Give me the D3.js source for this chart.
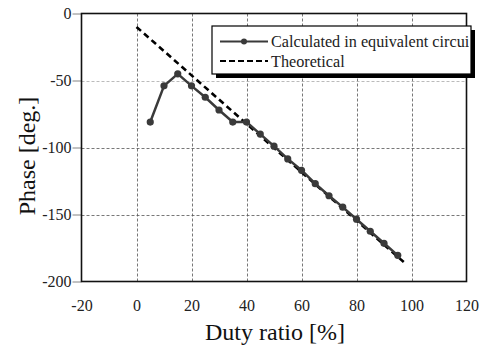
<!DOCTYPE html>
<html><head><meta charset="utf-8">
<script src="https://cdn.jsdelivr.net/npm/d3@7"></script>
<style>body{margin:0;background:#fff}svg{display:block}
svg text{font-family:'Liberation Serif','Times New Roman',serif}</style>
</head><body>
<svg id="c" width="483" height="347"></svg>
<script>
const xTicks = [-20, 0, 20, 40, 60, 80, 100, 120];
const yTicks = [0, -50, -100, -150, -200];
const duty = [5, 10, 15, 20, 25, 30, 35, 40, 45, 50, 55, 60, 65, 70, 75, 80, 85, 90, 95];
const calculated = [-81, -54, -45, -54, -62.5, -72, -81, -81, -90, -99, -108.5, -117, -127, -136, -144.5, -153.5, -162.5, -171.5, -180.5];
const theoDuty = [0, 98];
const theoPhase = [-10, -187];
const seriesNames = ["Calculated in equivalent circuit", "Theoretical"];

const svg = d3.select("#c");
const L = 81.5, R = 466.5, T = 13.5, B = 281.5;
const x = d3.scaleLinear().domain([-20, 120]).range([L, R]);
const y = d3.scaleLinear().domain([-200, 0]).range([B, T]);
const font = "'Liberation Serif','Times New Roman',serif";
const fmt = d => String(d);

// grid
svg.append("g").selectAll("line").data(xTicks.slice(1, -1)).join("line")
  .attr("x1", d => Math.round(x(d)) + 0.5).attr("x2", d => Math.round(x(d)) + 0.5)
  .attr("y1", T).attr("y2", B).attr("stroke", "#555").attr("stroke-width", 0.8).attr("stroke-dasharray", "3,2");
svg.append("g").selectAll("line").data(yTicks.slice(1, -1)).join("line")
  .attr("x1", L).attr("x2", R)
  .attr("y1", d => Math.round(y(d)) + 0.5).attr("y2", d => Math.round(y(d)) + 0.5)
  .attr("stroke", d => d === -50 ? "#aaa" : "#555").attr("stroke-width", 0.8).attr("stroke-dasharray", "3,2");

// axes
const xAxis = d3.axisBottom(x).tickValues(xTicks).tickFormat(fmt).tickSize(0).tickPadding(18);
const gx = svg.append("g").attr("transform", `translate(0,${B})`).call(xAxis);
gx.attr("font-family", null).attr("font-size", null);
gx.select(".domain").remove();
gx.selectAll("text").style("font-family", font).style("font-size", "16px").attr("fill", "#222");
const yAxis = d3.axisLeft(y).tickValues(yTicks).tickFormat(fmt).tickSize(9).tickPadding(1);
const gy = svg.append("g").attr("transform", `translate(${L},0)`).call(yAxis);
gy.attr("font-family", null).attr("font-size", null);
gy.select(".domain").remove();
gy.selectAll("line").attr("stroke", "#666").attr("stroke-width", 0.8);
gy.selectAll("text").style("font-family", font).style("font-size", "16px").attr("fill", "#222");

// frame
svg.append("rect").attr("x", L).attr("y", T).attr("width", R - L).attr("height", B - T)
  .attr("fill", "none").attr("stroke", "#111").attr("stroke-width", 1.6);

// theoretical
const theo = theoDuty.map((d, i) => [d, theoPhase[i]]);
svg.append("path").datum(theo)
  .attr("d", d3.line().x(d => x(d[0])).y(d => y(d[1])))
  .attr("fill", "none").attr("stroke", "#000").attr("stroke-width", 2.6).attr("stroke-dasharray", "6,4");

// calculated
const calc = duty.map((d, i) => [d, calculated[i]]);
svg.append("path").datum(calc)
  .attr("d", d3.line().x(d => x(d[0])).y(d => y(d[1])))
  .attr("fill", "none").attr("stroke", "#3a3a3a").attr("stroke-width", 2.5);
svg.append("g").selectAll("circle").data(calc).join("circle")
  .attr("cx", d => x(d[0])).attr("cy", d => y(d[1])).attr("r", 3.6).attr("fill", "#3a3a3a");

// legend
const lx = 212, ly = 26, lw = 259, lh = 48;
svg.append("rect").attr("x", lx + 4).attr("y", ly + 4).attr("width", lw).attr("height", lh).attr("fill", "#000");
svg.append("rect").attr("x", lx).attr("y", ly).attr("width", lw).attr("height", lh)
  .attr("fill", "#fff").attr("stroke", "#000").attr("stroke-width", 1.2);
const lg = svg.append("g");
lg.append("line").attr("x1", 220).attr("x2", 268).attr("y1", 41.5).attr("y2", 41.5)
  .attr("stroke", "#3a3a3a").attr("stroke-width", 2.2);
lg.append("circle").attr("cx", 244).attr("cy", 41.5).attr("r", 3).attr("fill", "#3a3a3a");
lg.append("line").attr("x1", 220).attr("x2", 268).attr("y1", 61).attr("y2", 61)
  .attr("stroke", "#000").attr("stroke-width", 2.2).attr("stroke-dasharray", "6,3");
svg.append("clipPath").attr("id", "lc").append("rect")
  .attr("x", lx).attr("y", ly).attr("width", lw - 2).attr("height", lh);
lg.selectAll("text").data(seriesNames).join("text")
  .attr("x", 271).attr("y", (d, i) => i === 0 ? 47 : 66.5)
  .attr("clip-path", "url(#lc)")
  .attr("font-size", 16.2).attr("fill", "#222").text(d => d);

// titles
svg.append("text").attr("x", 275).attr("y", 340).attr("text-anchor", "middle")
  .attr("font-size", 24).attr("fill", "#111").text("Duty ratio [%]");
svg.append("text").attr("transform", "translate(35,156) rotate(-90)").attr("text-anchor", "middle")
  .attr("font-size", 24).attr("fill", "#111").text("Phase [deg.]");
</script>
</body></html>
